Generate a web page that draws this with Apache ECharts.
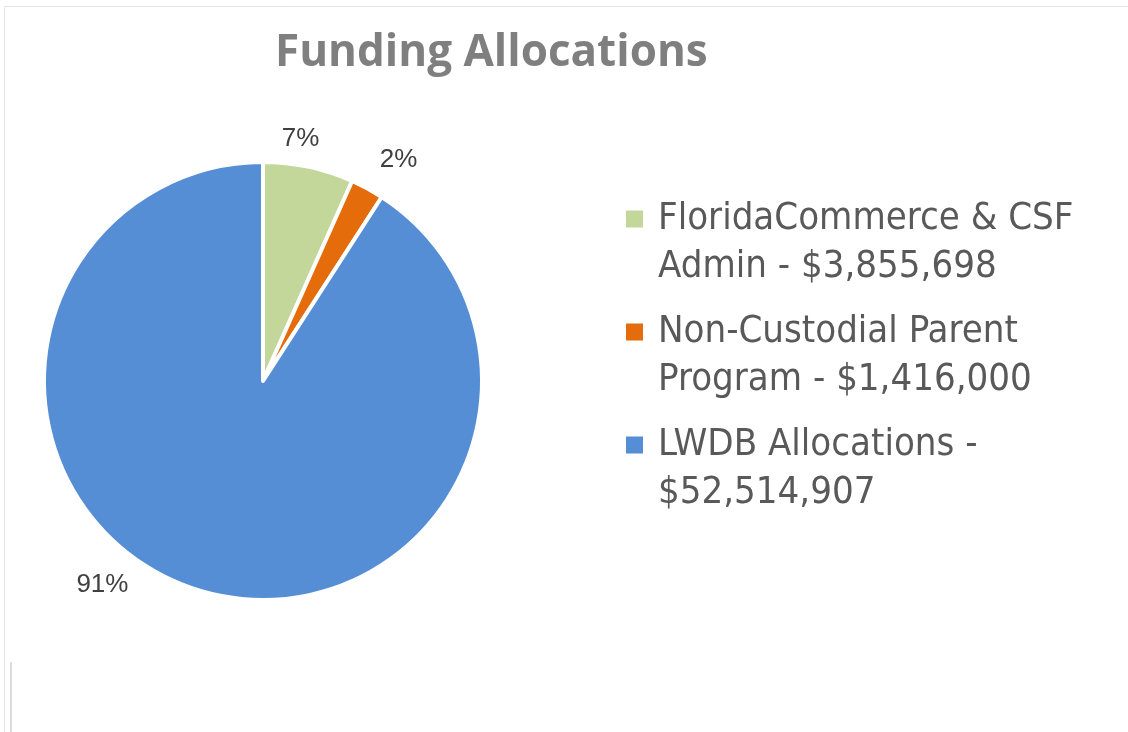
<!DOCTYPE html>
<html>
<head>
<meta charset="utf-8">
<script src="https://cdn.jsdelivr.net/npm/echarts@6/dist/echarts.min.js"></script>
<style>html,body{margin:0;padding:0;background:#fff}#chart{width:1128px;height:732px}</style>
</head>
<body>
<div id="chart"></div>
<script>
const categories = ['FloridaCommerce & CSF Admin', 'Non-Custodial Parent Program', 'LWDB Allocations'];
const amounts = [3855698, 1416000, 52514907];
const percentLabels = ['7%', '2%', '91%'];
const legendFirstLineWords = [3, 2, 3];
const colors = ['#C4D79B', '#E46C0A', '#558ED5'];
const labelShift = [[-36, -8], [-2, -11], [-62, -25]];

const chart = echarts.init(document.getElementById('chart'), null, {renderer: 'canvas'});
const fmt = v => '$' + v.toLocaleString('en-US');

chart.setOption({
  animation: false,
  backgroundColor: '#ffffff',
  color: colors,
  title: {
    text: 'Funding Allocations',
    left: 270, top: 26,
    textStyle: {fontFamily: 'Open Sans', fontWeight: 'bold', fontSize: 44, color: '#7F7F7F'}
  },
  legend: {
    orient: 'vertical',
    left: 626, top: 195,
    padding: 0,
    itemGap: 17,
    itemWidth: 17, itemHeight: 65,
    icon: 'path://M0,0L17,0L17,17L0,17Z M0,65L0.001,65',
    itemStyle: {borderWidth: 0},
    selectedMode: false,
    formatter: function (name) {
      const i = categories.indexOf(name);
      const words = (name + ' - ' + fmt(amounts[i])).split(' ');
      const k = legendFirstLineWords[i];
      return words.slice(0, k).join(' ') + '\n' + words.slice(k).join(' ');
    },
    textStyle: {
      fontFamily: 'DejaVu Sans Condensed', fontSize: 38, color: '#595959',
      lineHeight: 48, padding: [0, 0, 0, 10]
    }
  },
  graphic: [
    {type: 'rect', shape: {x: 4.5, y: 6.5, width: 1140, height: 740}, style: {fill: null, stroke: '#E4E4E4', lineWidth: 1}, silent: true},
    {type: 'line', shape: {x1: 11, y1: 662, x2: 11, y2: 732}, style: {stroke: '#D0D0D0', lineWidth: 1.5}, silent: true}
  ],
  series: [{
    type: 'pie',
    center: [263, 381],
    radius: [0, 219],
    startAngle: 90,
    clockwise: true,
    avoidLabelOverlap: false,
    itemStyle: {borderColor: '#ffffff', borderWidth: 4},
    label: {
      show: true, position: 'outside',
      fontFamily: 'Liberation Sans', fontSize: 26, color: '#404040',
      formatter: p => percentLabels[p.dataIndex]
    },
    labelLine: {show: false, length: 20, length2: 0},
    labelLayout: function (params) {
      const s = labelShift[params.dataIndex];
      return {dx: s[0], dy: s[1]};
    },
    emphasis: {disabled: true},
    data: categories.map((c, i) => ({name: c, value: amounts[i]}))
  }]
});
</script>
</body>
</html>
